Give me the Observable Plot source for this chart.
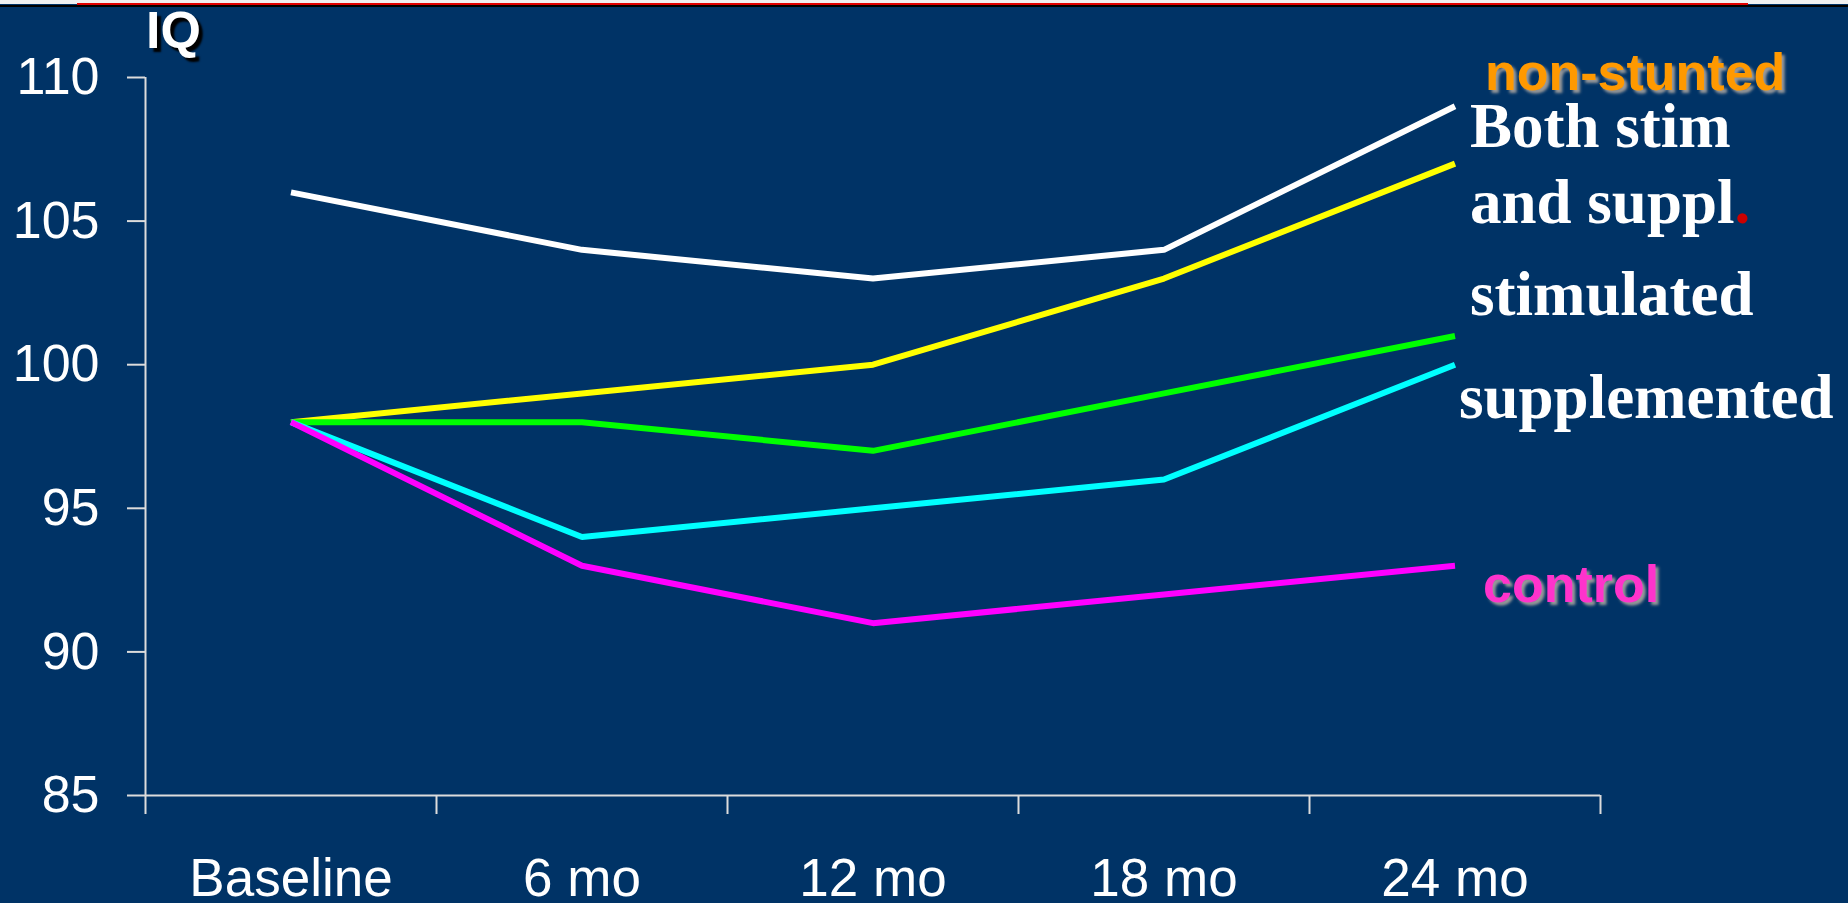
<!DOCTYPE html>
<html>
<head>
<meta charset="utf-8">
<script src="https://cdn.jsdelivr.net/npm/d3@7"></script>
<script src="https://cdn.jsdelivr.net/npm/@observablehq/plot@0.6"></script>
<style>
  html, body { margin: 0; padding: 0; background: #003366; overflow: hidden; }
  #wrap { position: relative; width: 1848px; height: 903px; background: #003366; }
  #chart { position: absolute; left: 0; top: 0; }
  .lab { position: absolute; white-space: nowrap; line-height: 1; }
  .sans { font-family: "Liberation Sans", Arial, sans-serif; font-weight: bold; }
  .serif { font-family: "Liberation Serif", "Times New Roman", serif; font-weight: bold; color: #fff; font-size: 63px; }
  #topw { position: absolute; left: 0; top: 0; width: 1848px; height: 4px; background: #f0f0f0; }
  #topr { position: absolute; left: 77px; top: 3px; width: 1671px; height: 2px; background: #e00000; }
  #topb { position: absolute; left: 0; top: 5px; width: 1848px; height: 2px; background: #000; }
</style>
</head>
<body>
<div id="wrap">
  <div id="chart"></div>
  <div id="topw"></div><div id="topr"></div><div id="topb"></div>
</div>
<script>
// ---- data ----
const periods = ["Baseline", "6 mo", "12 mo", "18 mo", "24 mo"];
const seriesNames = ["non-stunted", "Both stim and suppl.", "stimulated", "supplemented", "control"];
const nonStunted   = [106, 104, 103, 104, 109];
const bothStimSupp = [98, 99, 100, 103, 107];
const stimulated   = [98, 98, 97, 99, 101];
const supplemented = [98, 94, 95, 96, 100];
const control      = [98, 93, 91, 92, 93];
const yTicks = [85, 90, 95, 100, 105, 110];

// ---- styles ----
const seriesColors = ["#ffffff", "#ffff00", "#00ff00", "#00ffff", "#ff00ff"];

const allSeries = [nonStunted, bothStimSupp, stimulated, supplemented, control];
const rows = [];
allSeries.forEach((vals, s) => vals.forEach((v, i) => rows.push({series: seriesNames[s], i, value: v})));
const tickIdx = periods.map((d, i) => i);
const boundaries = [-0.5, ...tickIdx.map(i => i + 0.5)];

const axisColor = "#dcdcdc";

const plot = Plot.plot({
  width: 1848,
  height: 903,
  marginLeft: 145,
  marginRight: 248,
  marginTop: 77,
  marginBottom: 108,
  style: {background: "transparent", color: "#ffffff", fontFamily: "'Liberation Sans', Arial, sans-serif", overflow: "visible"},
  x: {domain: [-0.5, periods.length - 0.5]},
  y: {domain: [85, 110]},
  color: {domain: seriesNames, range: seriesColors},
  marks: [
    Plot.axisY(yTicks, {tickSize: 18, tickPadding: 28, fontSize: 52, stroke: axisColor, strokeWidth: 2, fill: "#ffffff", label: null}),
    Plot.axisX(boundaries, {tickSize: 19, tickFormat: () => "", stroke: axisColor, strokeWidth: 2, label: null}),
    Plot.axisX(tickIdx, {tickSize: 0, tickPadding: 63, tickFormat: i => periods[i], fontSize: 53, fill: "#ffffff", label: null}),
    Plot.ruleX([-0.5], {y1: 85, y2: 110, stroke: axisColor, strokeWidth: 2}),
    Plot.ruleY([85], {x1: -0.5, x2: periods.length - 0.5, stroke: axisColor, strokeWidth: 2}),
    Plot.line(rows, {x: "i", y: "value", z: "series", stroke: "series", strokeWidth: 6, strokeLinecap: "butt", strokeLinejoin: "miter", curve: "linear"})
  ]
});
document.getElementById("chart").appendChild(plot);

// ---- text labels (annotations) ----
const wrap = document.getElementById("wrap");
function addLabel(html, cls, left, top, extra) {
  const d = document.createElement("div");
  d.className = "lab " + cls;
  d.innerHTML = html;
  d.style.left = left + "px";
  d.style.top = top + "px";
  Object.assign(d.style, extra || {});
  wrap.appendChild(d);
}
addLabel("IQ", "sans", 146, 4, {fontSize: "52px", color: "#fff", textShadow: "4px 4px 2px #000"});
addLabel("non-stunted", "sans", 1485, 46, {fontSize: "52px", color: "#ff9900", textShadow: "3px 3px 3px #9a9a9a"});
addLabel("Both stim", "serif", 1470, 95);
addLabel("and suppl<span style='color:#cc0000'>.</span>", "serif", 1470, 171);
addLabel("stimulated", "serif", 1470, 263);
addLabel("supplemented", "serif", 1459, 366);
addLabel("control", "sans", 1483, 558, {fontSize: "52px", color: "#ff33cc", textShadow: "3px 3px 3px #9a9a9a"});
</script>
</body>
</html>
